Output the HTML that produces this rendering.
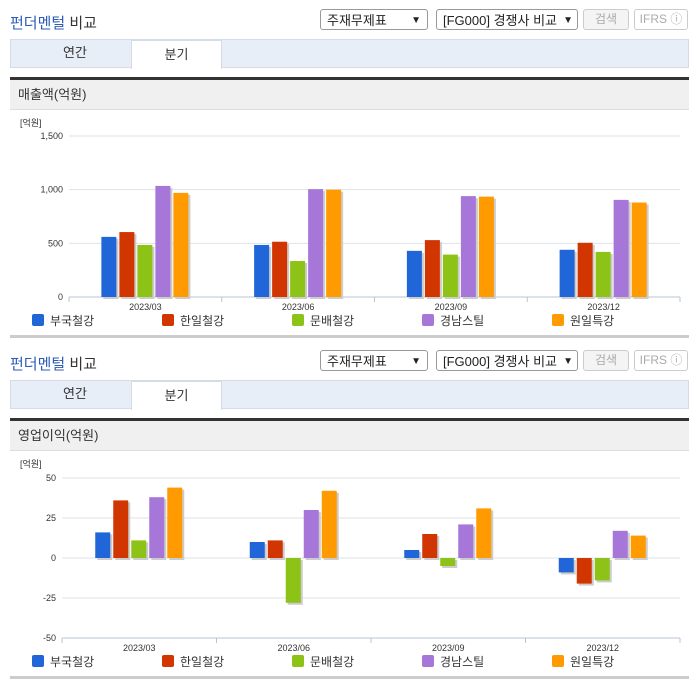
<!DOCTYPE html>
<html><head><meta charset="utf-8"><style>
body{margin:0;width:696px;height:684px;background:#fff;font-family:"Liberation Sans","Noto Sans CJK KR",sans-serif;position:relative;overflow:hidden}
.abs{position:absolute}
.title{font-size:15px;color:#333}
.title b{color:#2c5bb8;font-weight:normal}
.sel{border:1px solid #999;border-radius:3px;height:21px;font-size:13px;color:#222;line-height:21px;padding-left:6px;box-sizing:border-box;background:#fff}
.btn{border:1px solid #ccc;border-radius:3px;height:21px;font-size:12px;color:#aaa;text-align:center;line-height:19px;box-sizing:border-box;background:#f4f4f4}
.tabs{left:10px;width:679px;height:29px;background:#e8eef7;border:1px solid #d5dce8;box-sizing:border-box}
.tab{font-size:13px;color:#333;text-align:center;line-height:28px;height:29px}
.dark{left:10px;width:679px;height:3px;background:#333}
.hdr{left:10px;width:679px;height:30px;background:#f0f0f0;font-size:13px;color:#333;line-height:30px;padding-left:8px;box-sizing:border-box;border-bottom:1px solid #ddd}
.bot{left:10px;width:679px;height:3px;background:#ccc}
</style></head><body>
<script>
const categories=["2023/03","2023/06","2023/09","2023/12"];
const seriesNames=["부국철강","한일철강","문배철강","경남스틸","원일특강"];
const colors=["#2166d9","#d23600","#8dc217","#a677d9","#ff9a00"];
const sales_bukuk=[560,485,430,440];
const sales_hanil=[605,515,530,505];
const sales_munbae=[485,335,395,420];
const sales_gyeongnam=[1035,1005,940,905];
const sales_wonil=[970,1000,935,880];
const salesTicks=[0,500,1000,1500];
const salesTickLabels=["0","500","1,000","1,500"];
const op_bukuk=[16,10,5,-9];
const op_hanil=[36,11,15,-16];
const op_munbae=[11,-28,-5,-14];
const op_gyeongnam=[38,30,21,17];
const op_wonil=[44,42,31,14];
const opTicks=[-50,-25,0,25,50];
const opTickLabels=["-50","-25","0","25","50"];
</script>
<div id="root"></div>
<script>
const root=document.getElementById('root');
function block(top,hdrText,id){
  const h=`
  <div class="abs title" style="left:10px;top:${top+12}px"><b>펀더멘털</b> 비교</div>
  <div class="abs sel" style="left:320px;top:${top+9}px;width:108px">주재무제표<span style="position:absolute;right:6px;font-size:10px">&#9660;</span></div>
  <div class="abs sel" style="left:436px;top:${top+9}px;width:142px">[FG000] 경쟁사 비교<span style="position:absolute;right:4px;font-size:10px">&#9660;</span></div>
  <div class="abs btn" style="left:583px;top:${top+9}px;width:46px">검색</div>
  <div class="abs btn" style="left:634px;top:${top+9}px;width:54px;background:#fff">IFRS ⓘ</div>
  <div class="abs tabs" style="top:${top+39}px"></div>
  <div class="abs tab" style="left:20px;top:${top+39}px;width:110px">연간</div>
  <div class="abs tab" style="left:131px;top:${top+40}px;width:91px;background:#fff;border:1px solid #d5dce8;border-bottom:none;box-sizing:border-box">분기</div>
  <div class="abs dark" style="top:${top+77}px"></div>
  <div class="abs hdr" style="top:${top+80}px">${hdrText}</div>
  <svg id="${id}" class="abs" style="left:0;top:${top+110}px" width="696" height="226"></svg>
  <div class="abs bot" style="top:${top+335}px"></div>`;
  root.insertAdjacentHTML('beforeend',h);
}
block(0,"매출액(억원)","c1");
block(341,"영업이익(억원)","c2");
const NS="http://www.w3.org/2000/svg";
function mk(svg,tag,attrs,name,text){const e=document.createElementNS(NS,tag);for(const k in attrs)e.setAttribute(k,attrs[k]);


if(text!==undefined)e.textContent=text;svg.appendChild(e);return e;}
function chart(id,series,ticks,labels,x0,x1,yTop,yBot,vmin,vmax,unitY){
  const svg=document.getElementById(id);
  const y=v=>yBot-(v-vmin)/(vmax-vmin)*(yBot-yTop);
  const gw=(x1-x0)/categories.length;
  mk(svg,'text',{x:20,y:unitY,'font-size':9,fill:'#333'},'y-axis-unit','[억원]');
  ticks.forEach((t,i)=>{
    mk(svg,'line',{x1:x0,x2:x1,y1:y(t),y2:y(t),stroke:'#dde2ea','stroke-width':1},'gridline');
    mk(svg,'text',{x:x0-6,y:y(t)+3,'font-size':9,fill:'#333','text-anchor':'end'},'y-tick-label',labels[i]);
  });
  mk(svg,'line',{x1:x0,x2:x1,y1:yBot,y2:yBot,stroke:'#b8c4d4'},'x-axis');
  for(let i=0;i<=categories.length;i++)mk(svg,'line',{x1:x0+i*gw,x2:x0+i*gw,y1:yBot,y2:yBot+5,stroke:'#b8c4d4'},'x-tick');
  const z=y(Math.max(0,vmin));
  categories.forEach((c,ci)=>{
    const cx=x0+gw*(ci+0.5);
    mk(svg,'text',{x:cx,y:yBot+13,'font-size':9,fill:'#333','text-anchor':'middle'},'x-tick-label',c);
    series.forEach((s,si)=>{
      const v=s[ci];const bx=cx-44+si*18;const top=Math.min(y(v),z);const hh=Math.abs(y(v)-z);
      mk(svg,'rect',{x:bx+2,y:top+2,width:15,height:hh,fill:'#ccc'},'bar-shadow');
      mk(svg,'rect',{x:bx,y:top,width:15,height:hh,fill:colors[si]},'bar-'+seriesNames[si]+'-'+c);
    });
  });
  seriesNames.forEach((n,i)=>{
    mk(svg,'rect',{x:32+i*130,y:204,width:12,height:12,rx:2,fill:colors[i]},'legend-swatch');
    mk(svg,'text',{x:50+i*130,y:215,'font-size':12,fill:'#333'},'legend-entry',n);
  });
}
chart('c1',[sales_bukuk,sales_hanil,sales_munbae,sales_gyeongnam,sales_wonil],salesTicks,salesTickLabels,69,680,26,187,0,1500,16);
chart('c2',[op_bukuk,op_hanil,op_munbae,op_gyeongnam,op_wonil],opTicks,opTickLabels,62,680,27,187,-50,50,16);
</script>
</body></html>
